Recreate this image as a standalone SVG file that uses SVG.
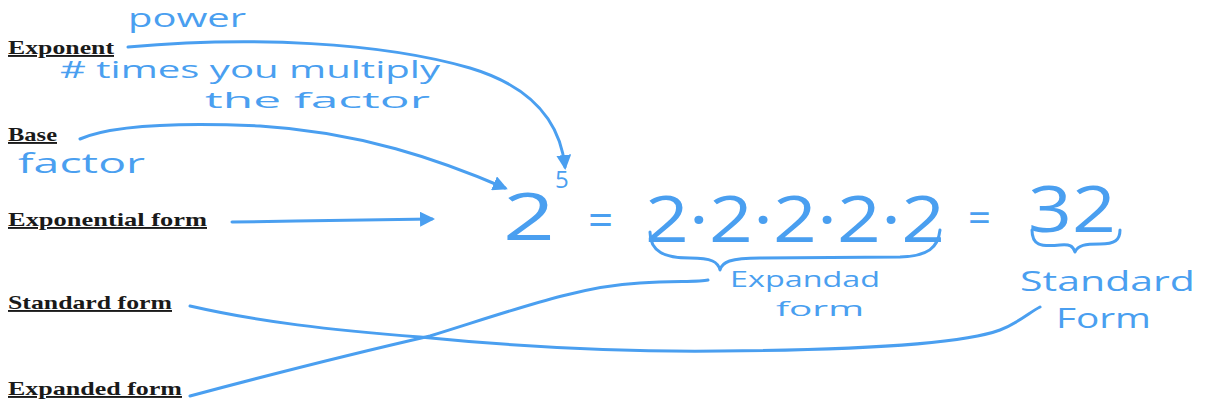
<svg xmlns="http://www.w3.org/2000/svg" width="1205" height="406" viewBox="0 0 1205 406">
<defs>
<style>
.lbl{font-family:"Liberation Serif",serif;font-weight:bold;font-size:19px;fill:#1a1a1a;text-decoration:underline}
.hw{font-family:"Open Sans","DejaVu Sans",sans-serif;fill:#4a9ff0}
.ln{fill:none;stroke:#4a9ff0;stroke-width:3;stroke-linecap:round;stroke-linejoin:round}
</style>
<marker id="ah" viewBox="0 0 10 10" refX="8" refY="5" markerWidth="5" markerHeight="5" orient="auto-start-reverse">
<path d="M0,0 L10,5 L0,10 z" fill="#4a9ff0"/>
</marker>
</defs>
<rect width="1205" height="406" fill="#fff"/>

<g id="exponent">
<text class="lbl" x="8" y="54" textLength="106" lengthAdjust="spacingAndGlyphs">Exponent</text>
<text class="hw" x="128" y="27" font-size="25" textLength="118" lengthAdjust="spacingAndGlyphs">power</text>
<text class="hw" x="60" y="78" font-size="23" textLength="380" lengthAdjust="spacingAndGlyphs"># times you multiply</text>
<text class="hw" x="205" y="108" font-size="21" textLength="225" lengthAdjust="spacingAndGlyphs">the factor</text>
</g>

<g id="base">
<text class="lbl" x="8" y="141" textLength="49" lengthAdjust="spacingAndGlyphs">Base</text>
<text class="hw" x="18" y="173" font-size="27" textLength="127" lengthAdjust="spacingAndGlyphs">factor</text>
</g>

<g id="exponential-form">
<text class="lbl" x="8" y="226" textLength="199" lengthAdjust="spacingAndGlyphs">Exponential form</text>
</g>

<g id="standard-form-label">
<text class="lbl" x="8" y="309" textLength="164" lengthAdjust="spacingAndGlyphs">Standard form</text>
</g>

<g id="expanded-form-label">
<text class="lbl" x="8" y="395" textLength="174" lengthAdjust="spacingAndGlyphs">Expanded form</text>
</g>

<g id="equation">
<text class="hw" x="503" y="240" font-size="66" textLength="52" lengthAdjust="spacingAndGlyphs">2</text>
<text class="hw" x="555" y="188" font-size="24">5</text>
<text class="hw" x="588" y="236" font-size="44">=</text>
<text class="hw" x="645" y="242" font-size="64" textLength="300" lengthAdjust="spacingAndGlyphs">2·2·2·2·2</text>
<text class="hw" x="968" y="232" font-size="40">=</text>
<text class="hw" x="1028" y="232" font-size="64" textLength="88" lengthAdjust="spacingAndGlyphs">32</text>
</g>

<g id="expanded-note">
<path class="ln" d="M650,232 C650,252 665,258 690,258 C712,258 718,262 720,270 C722,262 730,258 760,258 L900,257 C928,256 938,248 940,230"/>
<text class="hw" x="730" y="287" font-size="22" textLength="150" lengthAdjust="spacingAndGlyphs">Expandad</text>
<text class="hw" x="776" y="316" font-size="20" textLength="88" lengthAdjust="spacingAndGlyphs">form</text>
</g>

<g id="standard-note">
<path class="ln" d="M1032,230 C1032,245 1040,247 1060,245 C1070,244 1073,246 1075,252 C1078,245 1085,244 1100,244 C1115,244 1120,240 1120,230"/>
<text class="hw" x="1020" y="291" font-size="27" textLength="175" lengthAdjust="spacingAndGlyphs">Standard</text>
<text class="hw" x="1056" y="328" font-size="27" textLength="95" lengthAdjust="spacingAndGlyphs">Form</text>
</g>

<g id="connectors">
<path class="ln" marker-end="url(#ah)" d="M128,47 C250,36 380,42 470,68 C530,86 560,120 565,167"/>
<path class="ln" marker-end="url(#ah)" d="M80,139 C110,126 170,122 260,126 C360,132 440,160 505,188"/>
<path class="ln" marker-end="url(#ah)" d="M232,222 C300,221 380,220 432,219"/>
<path class="ln" d="M190,306 C260,322 330,330 420,337 C520,347 620,352 720,351 C850,350 960,345 1000,330 C1020,322 1030,312 1040,307"/>
<path class="ln" d="M190,396 C280,372 360,352 430,336 C520,308 580,286 640,283 C680,281 700,282 708,280"/>
</g>
</svg>
